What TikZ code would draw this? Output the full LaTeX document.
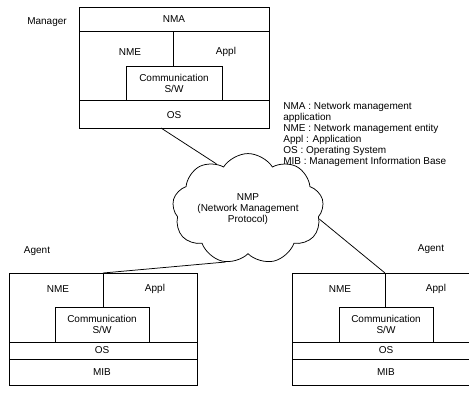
\documentclass[tikz,border=0pt]{standalone}
\usepackage{fontspec}
\setmainfont{Liberation Sans}
\usetikzlibrary{shapes.symbols}
\begin{document}
\begin{tikzpicture}[x=1pt,y=-1pt,line width=0.75pt,
  txt/.style={font=\fontsize{10}{11}\selectfont,inner sep=0pt,align=center},
  legend/.style={font=\fontsize{10}{11}\selectfont,inner sep=0pt,align=left,anchor=west},
  frame/.style={draw,inner sep=0pt,anchor=north west},
  conn/.style={draw,line width=0.75pt}]
\useasboundingbox (0,0) rectangle (469,392);
\clip (0,0) rectangle (469,392);

% ---------- Manager ----------
\node[txt] (mgrlabel) at (47,22) {Manager};
\node[frame,minimum width=190pt,minimum height=121pt] (mgr) at (79,7) {};
\draw (79,31) -- (269,31);
\draw (79,100) -- (269,100);
\node[frame,minimum width=96pt,minimum height=34pt] (mgrcomm) at (126,66) {};
\draw (173,31) -- (mgrcomm.north -| 173,0);
\node[txt] (mgrnma) at (174,19) {NMA};
\node[txt] (mgrnme) at (130,52) {NME};
\node[txt] (mgrappl) at (226,52) {Appl};
\node[txt] (mgrcommtxt) at (174,83) {Communication\\S/W};
\node[txt] (mgros) at (174,115) {OS};
\coordinate (mgrout) at (161,128);

% ---------- Legend ----------
\node[legend] (lg1) at (283,107) {NMA : Network management};
\node[legend] (lg2) at (283,118) {application};
\node[legend] (lg3) at (283,129) {NME : Network management entity};
\node[legend] (lg4) at (283,140) {Appl : Application};
\node[legend] (lg5) at (283,151) {OS : Operating System};
\node[legend] (lg6) at (283,162) {MIB : Management Information Base};

% ---------- Cloud ----------
\node[cloud,draw,cloud puffs=9,cloud puff arc=115,aspect=1.6,
      minimum width=122pt,minimum height=80pt,inner sep=0pt,
      txt] (nmp) at (248,209) {NMP\\(Network Management\\Protocol)};

% ---------- Agent (left) ----------
\node[txt] (aglabel) at (37,251) {Agent};
\node[frame,minimum width=188pt,minimum height=112pt] (ag) at (9,273) {};
\draw (9,342) -- (197,342);
\draw (9,359) -- (197,359);
\node[frame,minimum width=94pt,minimum height=35pt] (agcomm) at (55,307) {};
\coordinate (agin) at (103,273);
\draw (agin) -- (103,307);
\node[txt] (agnme) at (58,289) {NME};
\node[txt] (agappl) at (155,289) {Appl};
\node[txt] (agcommtxt) at (102,324) {Communication\\S/W};
\node[txt] (agos) at (102,350.5) {OS};
\node[txt] (agmib) at (102,372) {MIB};

% ---------- Agent (right) ----------
\node[txt] (bglabel) at (431,249) {Agent};
\node[frame,minimum width=188pt,minimum height=112pt] (bg) at (292,273) {};
\draw (292,342) -- (480,342);
\draw (292,359) -- (480,359);
\node[frame,minimum width=94pt,minimum height=35pt] (bgcomm) at (339,307) {};
\coordinate (bgin) at (385,273);
\draw (bgin) -- (385,307);
\node[txt] (bgnme) at (340,289) {NME};
\node[txt] (bgappl) at (436,289) {Appl};
\node[txt] (bgcommtxt) at (386,324) {Communication\\S/W};
\node[txt] (bgos) at (386,350.5) {OS};
\node[txt] (bgmib) at (386,372) {MIB};

% ---------- Connectors ----------
\draw[conn] (mgrout) -- (nmp.125);
\draw[conn] (nmp.247) -- (agin);
\draw[conn] (nmp.352) -- (bgin);
\end{tikzpicture}
\end{document}
